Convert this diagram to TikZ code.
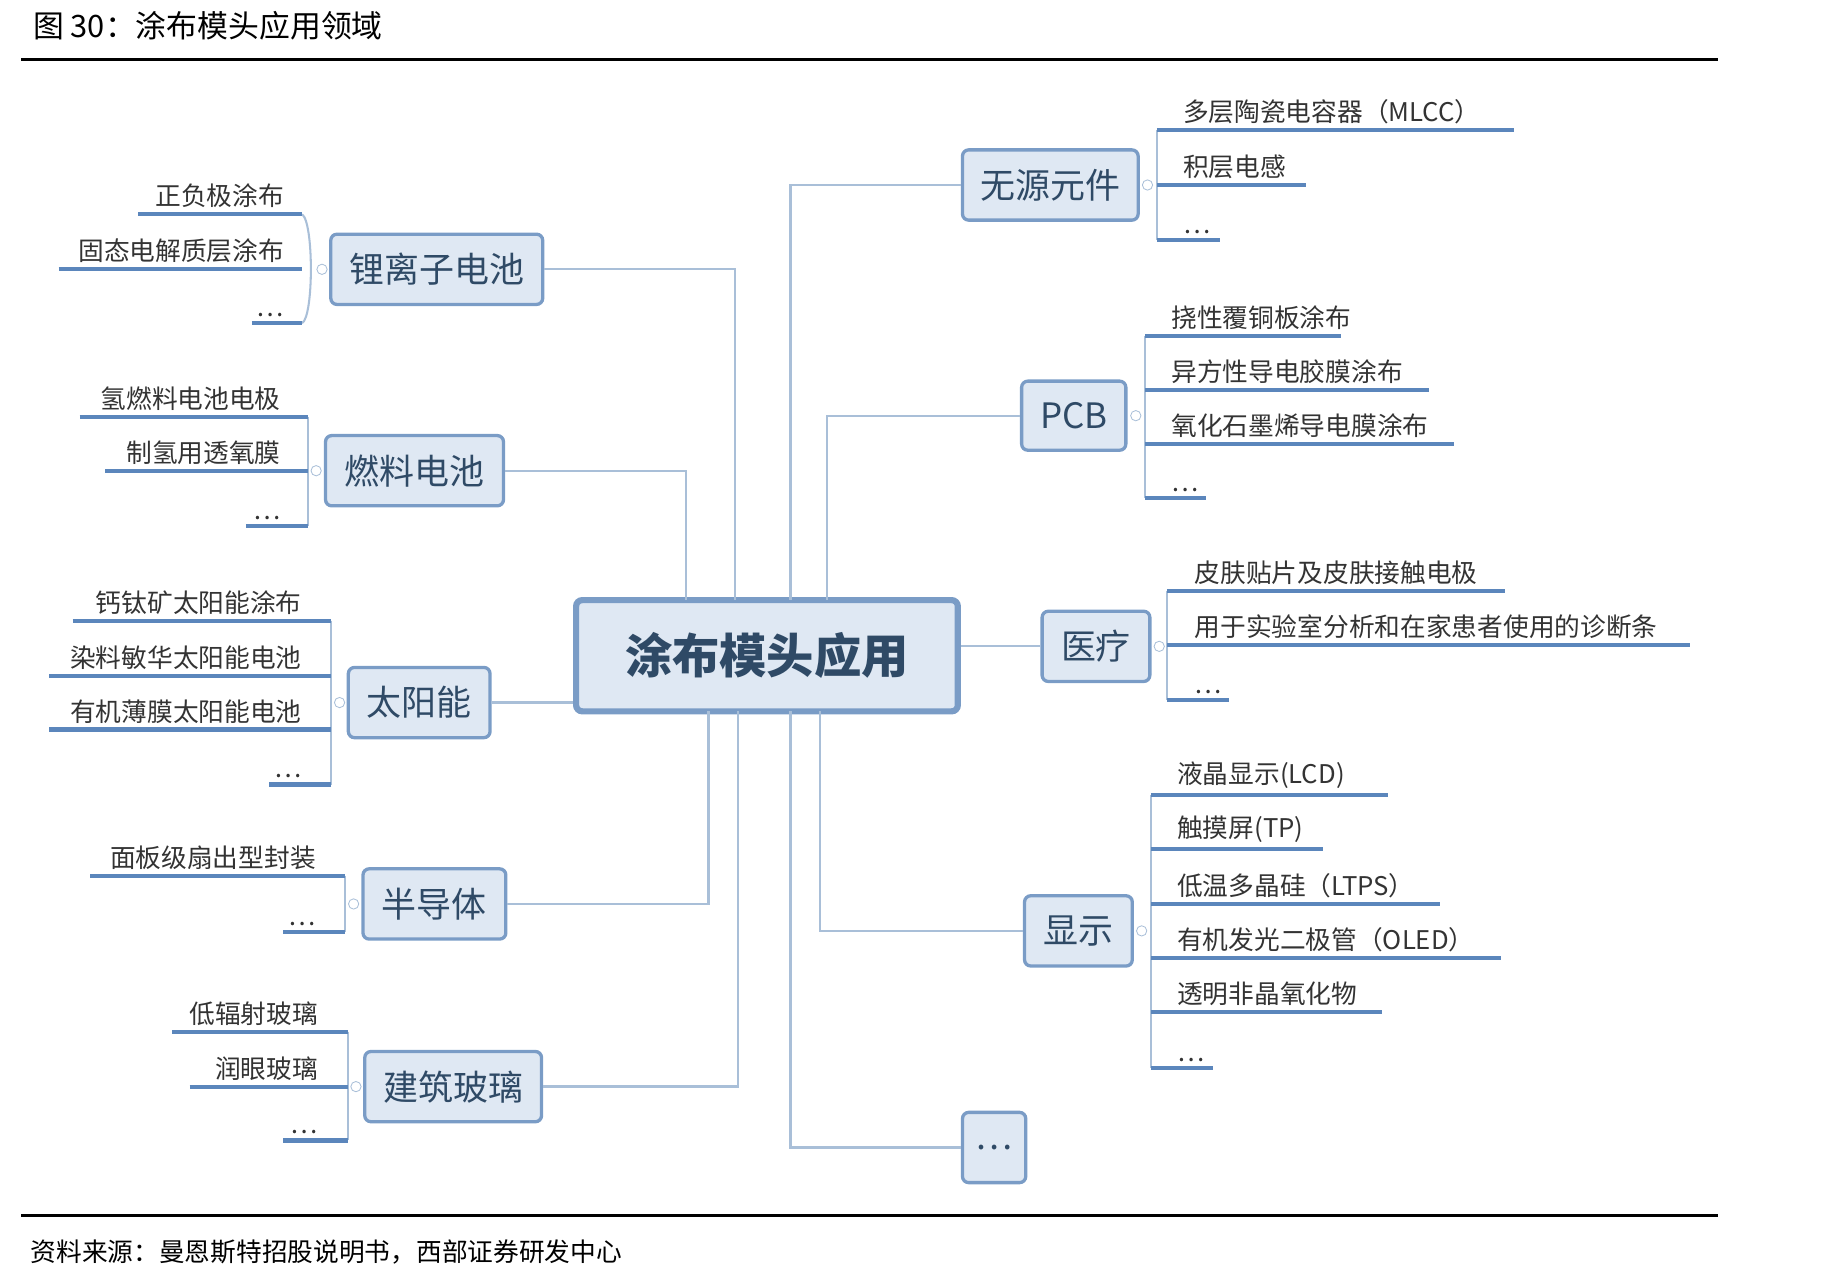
\documentclass[tikz,border=0pt]{standalone}
\usepackage{fontspec}
\setmainfont{Noto Sans CJK SC}
\usetikzlibrary{positioning}
\definecolor{boxline}{HTML}{7A9CC6}
\definecolor{boxfill}{HTML}{DFE8F3}
\definecolor{leafline}{HTML}{5B86BC}
\definecolor{linkline}{HTML}{A9BFD8}
\definecolor{hubtext}{HTML}{2F4A66}
\tikzset{%
  % node styles
      hub/.style = {rectangle, rounded corners=3pt, draw=boxline, fill=boxfill,
                    line width=1.6pt, inner sep=0pt, text=hubtext,
                    font=\fontsize{17}{17}\selectfont},
     root/.style = {hub, line width=3pt, minimum width=326*0.02cm,
                    minimum height=95*0.02cm, font=\fontsize{23}{23}\selectfont\bfseries},
     leaf/.style = {inner sep=0pt, text=black!80, font=\fontsize{12.5}{13}\selectfont},
     link/.style = {draw=linkline, line width=1.1pt},
    under/.style = {draw=leafline, line width=2pt},
  bracket/.style = {draw=linkline, line width=1pt},
     knob/.style = {circle, draw=linkline, fill=white, inner sep=0pt, minimum size=5pt},
}
\begin{document}
\begin{tikzpicture}[x=0.02cm, y=-0.02cm]
  \useasboundingbox (0,0) rectangle (1568,1095);
  % title and rules
  \node (title) [anchor=west, font=\fontsize{15}{15}\selectfont] at (22,22) {图 30：涂布模头应用领域};
  \draw[line width=1.2pt] (18,51) -- (1467,51);
  \draw[line width=1.2pt] (18,1038) -- (1467,1038);
  \node (source) [anchor=west, font=\fontsize{12.5}{13}\selectfont] at (20,1069) {资料来源：曼恩斯特招股说明书，西部证券研发中心};

  % central node and branches
  \node (root) [root] at (655,560) {涂布模头应用};
  \node (passive) [hub, minimum width=150*0.02cm, minimum height=60*0.02cm] at (897,158) {无源元件};
  \node (pcb)     [hub, minimum width=89*0.02cm,  minimum height=59*0.02cm] at (917,355) {PCB};
  \node (medic)   [hub, minimum width=92*0.02cm,  minimum height=60*0.02cm] at (936,552) {医疗};
  \node (display) [hub, minimum width=92*0.02cm,  minimum height=60*0.02cm] at (921,795) {显示};
  \node (more)    [hub, minimum width=54*0.02cm,  minimum height=60*0.02cm] at (849,980) {\ldots};
  \node (battery) [hub, minimum width=181*0.02cm, minimum height=60*0.02cm] at (373,230) {锂离子电池};
  \node (fuel)    [hub, minimum width=152*0.02cm, minimum height=60*0.02cm] at (354,402) {燃料电池};
  \node (solar)   [hub, minimum width=121*0.02cm, minimum height=60*0.02cm] at (358,600) {太阳能};
  \node (semi)    [hub, minimum width=122*0.02cm, minimum height=60*0.02cm] at (371,772) {半导体};
  \node (glass)   [hub, minimum width=151*0.02cm, minimum height=60*0.02cm] at (387,928) {建筑玻璃};

  % links from the centre
  \draw[link] (battery.east) -- (628,230) -- (628,512);
  \draw[link] (fuel.east) -- (586,402) -- (586,512);
  \draw[link] (solar.east) -- (root.west |- solar.east);
  \draw[link] (semi.east) -- (605,772) -- (605,607);
  \draw[link] (glass.east) -- (630,928) -- (630,607);
  \draw[link] (passive.west) -- (675,158) -- (675,512);
  \draw[link] (pcb.west) -- (706,355) -- (706,512);
  \draw[link] (medic.west) -- (root.east |- medic.west);
  \draw[link] (display.west) -- (700,795) -- (700,607);
  \draw[link] (more.west) -- (675,980) -- (675,607);

  % right-hand leaves: bracket x, text x, then y/end/text
  \draw[bracket] (988,111) -- (988,205);
  \node[knob] at (980,158) {};
  \foreach \y/\e/\t in {111/1293/多层陶瓷电容器（MLCC）, 158/1115/积层电感, 205/1042/{\ldots}}
    {\draw[under] (988,\y) -- (\e,\y);
     \node[leaf, anchor=south west] at (1010,\y-5) {\t};}
  \draw[bracket] (978,287) -- (978,425);
  \node[knob] at (970,355) {};
  \foreach \y/\e/\t in {287/1145/挠性覆铜板涂布, 333/1220/异方性导电胶膜涂布,
                        379/1242/氧化石墨烯导电膜涂布, 425/1030/{\ldots}}
    {\draw[under] (978,\y) -- (\e,\y);
     \node[leaf, anchor=south west] at (1000,\y-5) {\t};}
  \draw[bracket] (997,505) -- (997,598);
  \node[knob] at (990,552) {};
  \foreach \y/\e/\t in {505/1285/皮肤贴片及皮肤接触电极,
                        551/1443/用于实验室分析和在家患者使用的诊断条, 598/1050/{\ldots}}
    {\draw[under] (997,\y) -- (\e,\y);
     \node[leaf, anchor=south west] at (1020,\y-5) {\t};}
  \draw[bracket] (983,679) -- (983,912);
  \node[knob] at (975,795) {};
  \foreach \y/\e/\t in {679/1185/液晶显示(LCD), 725/1130/触摸屏(TP), 772/1230/低温多晶硅（LTPS）,
                        818/1282/有机发光二极管（OLED）, 864/1180/透明非晶氧化物, 912/1036/{\ldots}}
    {\draw[under] (983,\y) -- (\e,\y);
     \node[leaf, anchor=south west] at (1005,\y-5) {\t};}

  % left-hand leaves: y/start/text
  \draw[bracket] (258,183) .. controls (268,190) and (268,270) .. (258,276);
  \node[knob] at (275,230) {};
  \foreach \y/\s/\t in {183/118/正负极涂布, 230/50/固态电解质层涂布, 276/215/{\ldots}}
    {\draw[under] (\s,\y) -- (258,\y);
     \node[leaf, anchor=south east] at (243,\y-5) {\t};}
  \draw[bracket] (263,356) -- (263,449);
  \node[knob] at (270,402) {};
  \foreach \y/\s/\t in {356/68/氢燃料电池电极, 402/90/制氢用透氧膜, 449/210/{\ldots}}
    {\draw[under] (\s,\y) -- (263,\y);
     \node[leaf, anchor=south east] at (240,\y-5) {\t};}
  \draw[bracket] (283,530) -- (283,670);
  \node[knob] at (290,600) {};
  \foreach \y/\s/\t in {530/62/钙钛矿太阳能涂布, 577/42/染料敏华太阳能电池,
                        623/42/有机薄膜太阳能电池, 670/230/{\ldots}}
    {\draw[under] (\s,\y) -- (283,\y);
     \node[leaf, anchor=south east] at (258,\y-5) {\t};}
  \draw[bracket] (295,748) -- (295,796);
  \node[knob] at (302,772) {};
  \foreach \y/\s/\t in {748/77/面板级扇出型封装, 796/242/{\ldots}}
    {\draw[under] (\s,\y) -- (295,\y);
     \node[leaf, anchor=south east] at (270,\y-5) {\t};}
  \draw[bracket] (297,881) -- (297,974);
  \node[knob] at (304,928) {};
  \foreach \y/\s/\t in {881/147/低辐射玻璃, 928/162/润眼玻璃, 974/242/{\ldots}}
    {\draw[under] (\s,\y) -- (297,\y);
     \node[leaf, anchor=south east] at (272,\y-5) {\t};}
\end{tikzpicture}
\end{document}
